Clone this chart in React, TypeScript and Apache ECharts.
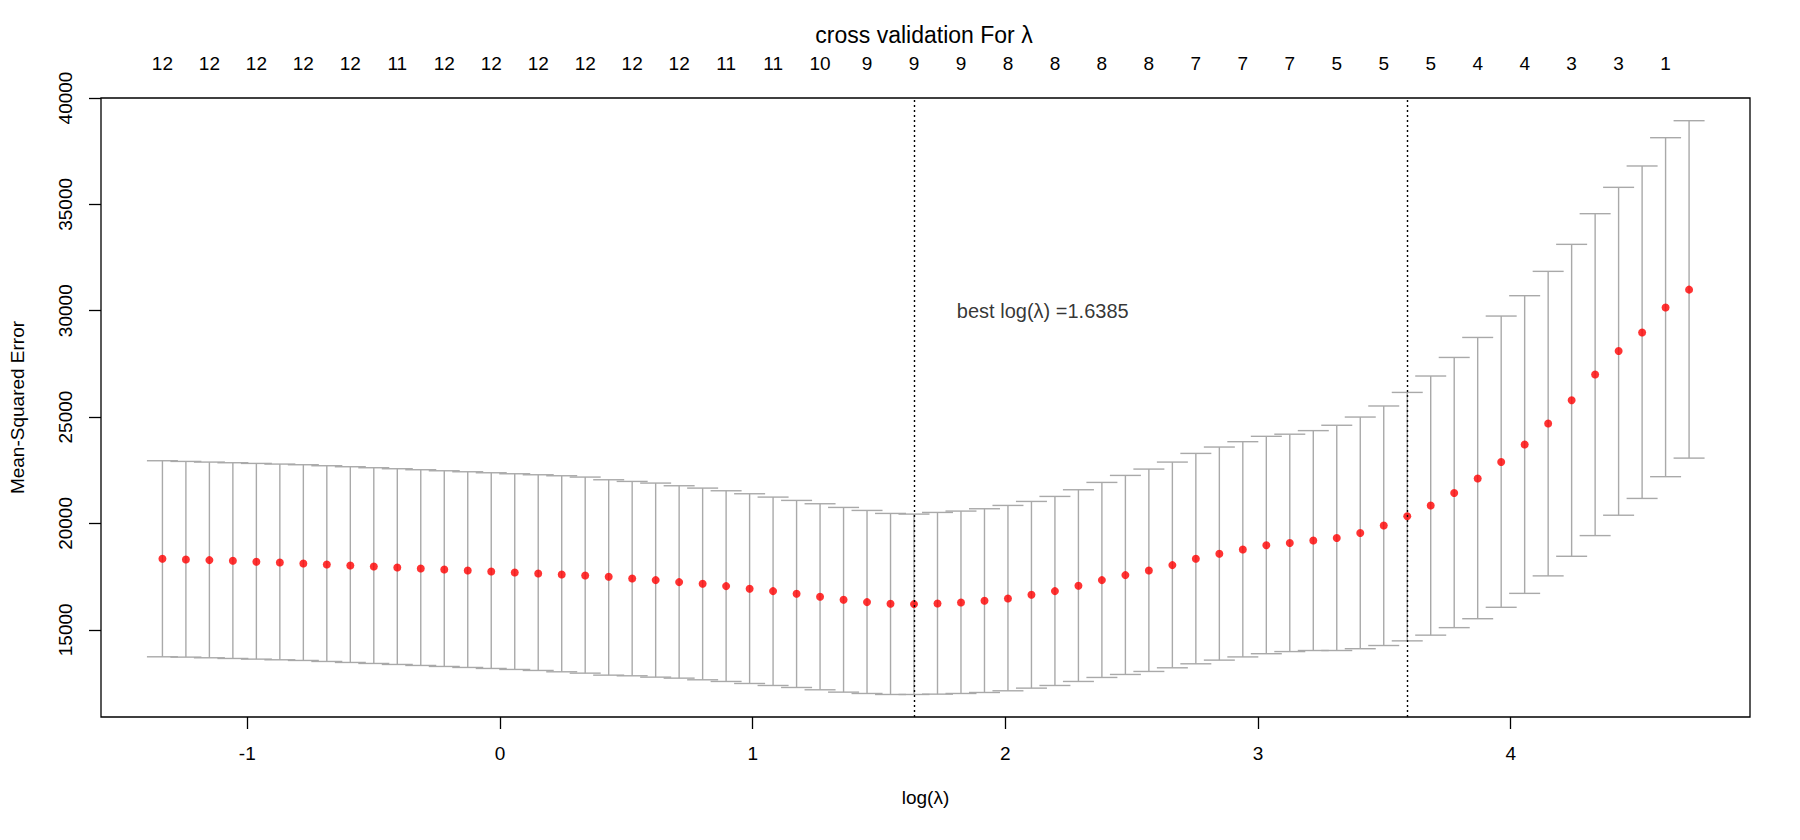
import * as echarts from 'echarts';
import { useEffect, useRef } from 'react';

// log(lambda) for every fold-averaged fit, left to right
const logLambda = [
  -1.3359, -1.243, -1.15, -1.0571, -0.9641, -0.8712, -0.7782, -0.6853, -0.5923, -0.4994,
  -0.4064, -0.3135, -0.2205, -0.1276, -0.0346, 0.0584, 0.1513, 0.2443, 0.3372, 0.4302,
  0.5231, 0.6161, 0.709, 0.802, 0.8949, 0.9879, 1.0808, 1.1738, 1.2667, 1.3597,
  1.4526, 1.5456, 1.6385, 1.7315, 1.8244, 1.9174, 2.0103, 2.1033, 2.1962, 2.2892,
  2.3821, 2.4751, 2.568, 2.661, 2.7539, 2.8469, 2.9398, 3.0328, 3.1257, 3.2187,
  3.3116, 3.4046, 3.4975, 3.5905, 3.6834, 3.7764, 3.8693, 3.9623, 4.0552, 4.1482,
  4.2411, 4.3341, 4.427, 4.52, 4.6129, 4.7059,
];

// mean cross-validated error (red dots)
const cvMean = [
  18339, 18307, 18276, 18245, 18197, 18166, 18119, 18072, 18025, 17978,
  17931, 17884, 17837, 17790, 17743, 17696, 17649, 17602, 17555, 17492,
  17414, 17335, 17241, 17163, 17053, 16928, 16818, 16693, 16552, 16411,
  16301, 16223, 16207, 16238, 16285, 16364, 16473, 16646, 16818, 17069,
  17335, 17571, 17790, 18041, 18339, 18574, 18776, 18977, 19077, 19195,
  19312, 19547, 19899, 20336, 20839, 21427, 22115, 22886, 23709, 24699,
  25789, 26998, 28105, 28978, 30152, 30991,
];

// mean + 1 se
const cvUpper = [
  22947, 22915, 22884, 22853, 22821, 22790, 22759, 22712, 22665, 22618,
  22571, 22524, 22476, 22429, 22382, 22335, 22288, 22241, 22179, 22053,
  21975, 21897, 21771, 21661, 21536, 21395, 21238, 21082, 20925, 20752,
  20611, 20470, 20439, 20517, 20580, 20690, 20846, 21034, 21270, 21583,
  21928, 22257, 22555, 22884, 23292, 23591, 23843, 24095, 24195, 24363,
  24615, 25001, 25521, 26159, 26930, 27803, 28743, 29749, 30706, 31850,
  33120, 34562, 35800, 36804, 38134, 38933,
];

// mean - 1 se
const cvLower = [
  13730, 13715, 13684, 13652, 13621, 13589, 13558, 13511, 13464, 13417,
  13370, 13323, 13276, 13229, 13182, 13135, 13088, 13025, 12962, 12868,
  12837, 12774, 12727, 12649, 12571, 12476, 12382, 12288, 12179, 12069,
  12006, 11959, 11959, 11975, 12006, 12053, 12132, 12257, 12382, 12571,
  12759, 12900, 13041, 13213, 13401, 13574, 13725, 13875, 13976, 14026,
  14026, 14110, 14261, 14479, 14748, 15101, 15520, 16057, 16712, 17534,
  18456, 19428, 20386, 21175, 22198, 23071,
];

// number of non-zero coefficients, printed above every other lambda
const nzLabels = [
  '12', '12', '12', '12', '12', '11', '12', '12', '12', '12', '12',
  '12', '11', '11', '10', '9', '9', '9', '8', '8', '8', '8',
  '7', '7', '7', '5', '5', '5', '4', '4', '3', '3', '1',
];

const xTicks = [-1, 0, 1, 2, 3, 4];
const yTicks = [15000, 20000, 25000, 30000, 35000, 40000];

const bestLogLambda = 1.6385;
const seLogLambda = 3.5905;
const noteText = 'best log(λ) =1.6385';
const noteX = 2.148;
const noteY = 30000;

const FONT = "'Liberation Sans', Arial, Helvetica, sans-serif";
const FS = 19;

const App: React.FC = () => {
  const chartRef = useRef<HTMLDivElement>(null);

  useEffect(() => {
    if (!chartRef.current) return;
    const mychart = echarts.init(chartRef.current, null, { renderer: 'svg' });

    const topTicks = logLambda.filter((_, i) => i % 2 === 0);
    const topFormatter = (v: number) => {
      let best = 0;
      topTicks.forEach((t, i) => {
        if (Math.abs(t - v) < Math.abs(topTicks[best] - v)) best = i;
      });
      return nzLabels[best] ?? '';
    };

    const barData = logLambda.map((x, i) => [x, cvLower[i], cvUpper[i]]);
    const pointData = logLambda.map((x, i) => [x, cvMean[i]]);

    const option = {
      animation: false,
      textStyle: { fontFamily: FONT, color: '#000' },
      graphic: [
        {
          type: 'text',
          x: 924,
          y: 35,
          style: {
            text: 'cross validation For λ',
            fontSize: 23,
            fontFamily: FONT,
            fill: '#000',
            align: 'center',
            verticalAlign: 'middle',
          },
        },
      ],
      grid: {
        left: 99,
        top: 98,
        width: 1651,
        height: 619,
        show: true,
        borderColor: '#000',
        borderWidth: 1.3,
        backgroundColor: 'transparent',
      },
      xAxis: [
        {
          type: 'value',
          min: -1.579,
          max: 4.947,
          position: 'bottom',
          splitLine: { show: false },
          axisLine: { show: false, onZero: false },
          axisTick: {
            show: true,
            length: 12,
            customValues: xTicks,
            lineStyle: { color: '#000', width: 1.3 },
          },
          axisLabel: {
            customValues: xTicks,
            margin: 27,
            fontSize: FS,
            color: '#000',
            fontFamily: FONT,
          },
          name: 'log(λ)',
          nameLocation: 'middle',
          nameGap: 71,
          nameTextStyle: { fontSize: FS, color: '#000', fontFamily: FONT },
        },
        {
          type: 'value',
          min: -1.579,
          max: 4.947,
          position: 'top',
          splitLine: { show: false },
          axisLine: { show: false, onZero: false },
          axisTick: { show: false },
          axisLabel: {
            customValues: topTicks,
            margin: 25,
            fontSize: FS,
            color: '#000',
            fontFamily: FONT,
            formatter: topFormatter,
          },
        },
      ],
      yAxis: {
        type: 'value',
        min: 10900,
        max: 40000,
        position: 'left',
        splitLine: { show: false },
        axisLine: { show: false, onZero: false },
        axisTick: {
          show: true,
          length: 12,
          customValues: yTicks,
          lineStyle: { color: '#000', width: 1.3 },
        },
        axisLabel: {
          customValues: yTicks,
          rotate: 90,
          margin: 26,
          fontSize: FS,
          color: '#000',
          fontFamily: FONT,
          formatter: (v: number) => String(v),
        },
        name: 'Mean-Squared Error',
        nameLocation: 'middle',
        nameRotate: 90,
        nameGap: 74,
        nameTextStyle: { fontSize: FS, color: '#000', fontFamily: FONT },
      },
      series: [
        {
          type: 'custom',
          xAxisIndex: 0,
          data: barData,
          encode: { x: 0, y: [1, 2] },
          z: 2,
          renderItem: (_params: any, api: any) => {
            const x = api.value(0);
            const lo = api.coord([x, api.value(1)]);
            const hi = api.coord([x, api.value(2)]);
            const w = 15.5;
            const style = { stroke: '#a9a9a9', lineWidth: 1.4 };
            return {
              type: 'group',
              children: [
                { type: 'line', shape: { x1: lo[0], y1: lo[1], x2: hi[0], y2: hi[1] }, style },
                { type: 'line', shape: { x1: hi[0] - w, y1: hi[1], x2: hi[0] + w, y2: hi[1] }, style },
                { type: 'line', shape: { x1: lo[0] - w, y1: lo[1], x2: lo[0] + w, y2: lo[1] }, style },
              ],
            };
          },
        },
        {
          type: 'scatter',
          xAxisIndex: 0,
          data: pointData,
          symbol: 'circle',
          symbolSize: 8,
          itemStyle: { color: '#ff0000' },
          z: 3,
        },
        {
          type: 'scatter',
          xAxisIndex: 0,
          data: [[noteX, noteY]],
          symbolSize: 1,
          itemStyle: { color: 'transparent' },
          z: 4,
          label: {
            show: true,
            position: 'inside',
            formatter: noteText,
            fontSize: 20,
            color: '#000',
            fontFamily: FONT,
          },
          markLine: {
            silent: true,
            symbol: ['none', 'none'],
            label: { show: false },
            lineStyle: { color: '#000', width: 1.4, type: [2, 3] },
            data: [{ xAxis: bestLogLambda }, { xAxis: seLogLambda }],
          },
        },
      ],
    };

    mychart.setOption(option as any);

    return () => {
      if (!mychart.isDisposed()) mychart.dispose();
    };
  }, []);

  return (
    <div
      ref={chartRef}
      style={{ position: 'fixed', left: 0, top: 0, width: '1800px', height: '840px', background: '#fff' }}
    />
  );
};

export default App;
